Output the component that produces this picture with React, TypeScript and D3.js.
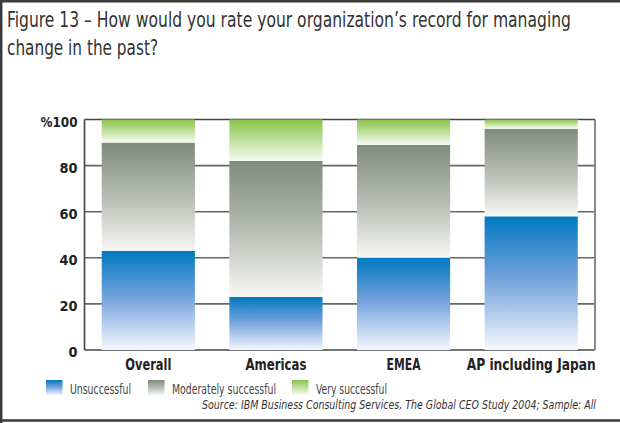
import React, { useEffect, useRef } from 'react'
import * as d3 from 'd3'

const categories = ['Overall', 'Americas', 'EMEA', 'AP including Japan']
const unsuccessful = [43, 23, 40, 58]
const moderately = [47, 59, 49, 38]
const very = [10, 18, 11, 4]
const yTicks = [0, 20, 40, 60, 80, 100]
const seriesNames = ['Unsuccessful', 'Moderately successful', 'Very successful']

const W = 620
const H = 423
const COND = "'Liberation Sans Narrow', 'DejaVu Sans Condensed', 'Roboto Condensed', 'Liberation Sans', sans-serif"

// measured widths of the condensed texts in the original
const catWidths = [46, 61, 34, 129]
const legendWidths = [61, 104, 71]

export default function App() {
  const svgRef = useRef<SVGSVGElement>(null)

  useEffect(() => {
    if (!svgRef.current) return
    const svg = d3.select(svgRef.current)
    svg.selectAll('*').remove()

    const margin = { top: 119.5, right: 25, bottom: 73, left: 84.5 }
    const chartW = W - margin.left - margin.right
    const chartH = H - margin.top - margin.bottom

    // gradients
    const defs = svg.append('defs')
    const grads = [
      { id: 'g-unsucc', stops: [['0%', '#0079c1'], ['45%', '#6fa0da'], ['100%', '#f4f7fd']] },
      { id: 'g-mod', stops: [['0%', '#7d8c7a'], ['50%', '#b6bcb1'], ['100%', '#f7f7f5']] },
      { id: 'g-very', stops: [['0%', '#89c449'], ['100%', '#f6fbf1']] },
    ]
    grads.forEach(gd => {
      const lg = defs.append('linearGradient')
        .attr('id', gd.id)
        .attr('x1', 0).attr('y1', 0).attr('x2', 0).attr('y2', 1)
      gd.stops.forEach(([o, c]) => lg.append('stop').attr('offset', o).attr('stop-color', c))
    })
    const fills = ['url(#g-unsucc)', 'url(#g-mod)', 'url(#g-very)']

    // outer frame
    svg.append('path')
      .attr('d', `M1.2,${H} L1.2,1.2 L${W},1.2 M0,420.5 L${W},420.5`)
      .attr('fill', 'none')
      .attr('stroke', '#3a3a3a')
      .attr('stroke-width', 2.5)

    // title
    const title = svg.append('text')
      .attr('font-family', COND)
      .attr('font-size', 21)
      .attr('fill', '#333')
    title.append('tspan').attr('x', 7).attr('y', 27)
      .attr('textLength', 564).attr('lengthAdjust', 'spacingAndGlyphs')
      .text('Figure 13 \u2013 How would you rate your organization\u2019s record for managing')
    title.append('tspan').attr('x', 7).attr('y', 55)
      .attr('textLength', 151).attr('lengthAdjust', 'spacingAndGlyphs')
      .text('change in the past?')

    const g = svg.append('g').attr('transform', `translate(${margin.left},${margin.top})`)

    const x = d3.scaleBand<string>()
      .domain(categories)
      .range([0, chartW])
      .paddingInner(0.27)
      .paddingOuter(0.135)

    const y = d3.scaleLinear().domain([0, 100]).range([chartH, 0])

    // grid lines
    g.selectAll('.grid')
      .data(yTicks.filter(t => t > 0 && t < 100))
      .enter()
      .append('line')
      .attr('x1', 0).attr('x2', chartW)
      .attr('y1', d => y(d)).attr('y2', d => y(d))
      .attr('stroke', '#666')
      .attr('stroke-width', 1.6)

    // frame of plot
    g.append('line').attr('x1', 0).attr('x2', chartW).attr('y1', 0).attr('y2', 0)
      .attr('stroke', '#444').attr('stroke-width', 1.6)
    g.append('line').attr('x1', 0).attr('x2', chartW).attr('y1', chartH).attr('y2', chartH)
      .attr('stroke', '#444').attr('stroke-width', 1.6)
    g.append('line').attr('x1', 0).attr('x2', 0).attr('y1', 0).attr('y2', chartH)
      .attr('stroke', '#444').attr('stroke-width', 1.6)
    g.append('line').attr('x1', chartW).attr('x2', chartW).attr('y1', 0).attr('y2', chartH)
      .attr('stroke', '#888').attr('stroke-width', 2)

    // stacked data
    const rows = categories.map((c, i) => ({ cat: c, s0: unsuccessful[i], s1: moderately[i], s2: very[i] }))
    const stack = d3.stack<any>().keys(['s0', 's1', 's2'])(rows)

    stack.forEach((layer, li) => {
      g.selectAll(`.seg-${li}`)
        .data(layer)
        .enter()
        .append('rect')
        .attr('x', d => x(d.data.cat) as number)
        .attr('width', x.bandwidth())
        .attr('y', d => y(d[1]))
        .attr('height', d => y(d[0]) - y(d[1]))
        .attr('fill', fills[li])
    })

    // y tick labels
    g.selectAll('.ytick')
      .data(yTicks)
      .enter()
      .append('text')
      .attr('x', -7)
      .attr('y', d => y(d))
      .attr('dy', '0.5em')
      .attr('text-anchor', 'end')
      .attr('font-family', COND)
      .attr('font-weight', 'bold')
      .attr('font-size', 14)
      .attr('fill', '#222')
      .attr('textLength', d => (d === 100 ? 37 : d === 0 ? 9 : 18))
      .attr('lengthAdjust', 'spacingAndGlyphs')
      .text(d => (d === 100 ? '%100' : String(d)))

    // category labels
    g.selectAll('.xlab')
      .data(categories)
      .enter()
      .append('text')
      .attr('x', d => (x(d) as number) + x.bandwidth() / 2)
      .attr('y', chartH + 19.5)
      .attr('text-anchor', 'middle')
      .attr('font-family', COND)
      .attr('font-weight', 'bold')
      .attr('font-size', 15)
      .attr('fill', '#222')
      .attr('textLength', (d, i) => catWidths[i])
      .attr('lengthAdjust', 'spacingAndGlyphs')
      .text(d => d)

    // legend
    const legendX = [46, 148, 292]
    seriesNames.forEach((name, i) => {
      const item = svg.append('g').attr('transform', `translate(${legendX[i]},380)`)
      item.append('rect').attr('width', 16.5).attr('height', 15).attr('fill', fills[i])
      item.append('text')
        .attr('x', 24)
        .attr('y', 14)
        .attr('font-family', COND)
        .attr('font-size', 14)
        .attr('fill', '#444')
        .attr('textLength', legendWidths[i])
        .attr('lengthAdjust', 'spacingAndGlyphs')
        .text(name)
    })

    // source
    svg.append('text')
      .attr('x', 596)
      .attr('y', 408.5)
      .attr('text-anchor', 'end')
      .attr('font-family', COND)
      .attr('font-style', 'italic')
      .attr('font-size', 13)
      .attr('fill', '#333')
      .attr('textLength', 394)
      .attr('lengthAdjust', 'spacingAndGlyphs')
      .text('Source: IBM Business Consulting Services, The Global CEO Study 2004; Sample: All')
  }, [])

  return (
    <svg
      ref={svgRef}
      width={W}
      height={H}
      style={{ position: 'absolute', left: 0, top: 0, background: '#fff' }}
    />
  )
}
